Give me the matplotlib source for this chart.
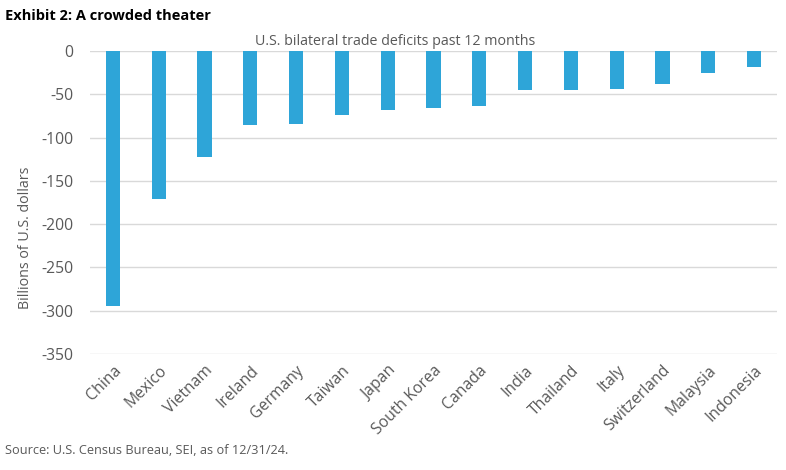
import matplotlib
matplotlib.use("Agg")
import matplotlib.pyplot as plt

countries = ["China", "Mexico", "Vietnam", "Ireland", "Germany", "Taiwan", "Japan",
             "South Korea", "Canada", "India", "Thailand", "Italy", "Switzerland",
             "Malaysia", "Indonesia"]
deficits = [-295, -171, -123, -86, -84, -74, -68, -66, -63, -45, -45, -44, -38, -25, -18]
y_ticks = [0, -50, -100, -150, -200, -250, -300, -350]

BAR_COLOR = "#2EA5D8"
TEXT_COLOR = "#595959"
GRID_COLOR = "#D9D9D9"

plt.rcParams["font.family"] = ["Open Sans", "DejaVu Sans"]

fig = plt.figure(figsize=(7.86, 4.70), dpi=100)
ax = fig.add_axes([0.1145, 0.2468, 0.874, 0.6447])

x = list(range(len(countries)))
ax.bar(x, deficits, width=0.31, color=BAR_COLOR, zorder=3)

ax.set_ylim(-350, 0)
ax.set_xlim(-0.5, len(countries) - 0.5)
ax.set_yticks(y_ticks)
ax.set_yticklabels([str(v) for v in y_ticks])
ax.yaxis.grid(True, color=GRID_COLOR, linewidth=1, zorder=0)
ax.set_xticks(x)
ax.set_xticklabels(countries, rotation=45, ha="right", rotation_mode="anchor")
ax.tick_params(axis="both", length=0, colors=TEXT_COLOR, labelsize=11.3)
ax.tick_params(axis="y", pad=12)
ax.tick_params(axis="x", pad=6)
for s in ax.spines.values():
    s.set_visible(False)

# Excel put the axis title a bit below the middle of the plot
ax.set_ylabel("Billions of U.S. dollars", color=TEXT_COLOR, fontsize=10.3)
ax.yaxis.set_label_coords(-0.083, 0.383)

fig.text(0.503, 0.911, "U.S. bilateral trade deficits past 12 months",
         ha="center", va="center", color=TEXT_COLOR, fontsize=10.3)
fig.text(0.006, 0.967, "Exhibit 2: A crowded theater", ha="left", va="center",
         color="black", fontsize=10.5, fontweight="bold")
fig.text(0.006, 0.042, "Source: U.S. Census Bureau, SEI, as of 12/31/24.",
         ha="left", va="center", color=TEXT_COLOR, fontsize=9.2)

fig.savefig("out.png", dpi=100)
